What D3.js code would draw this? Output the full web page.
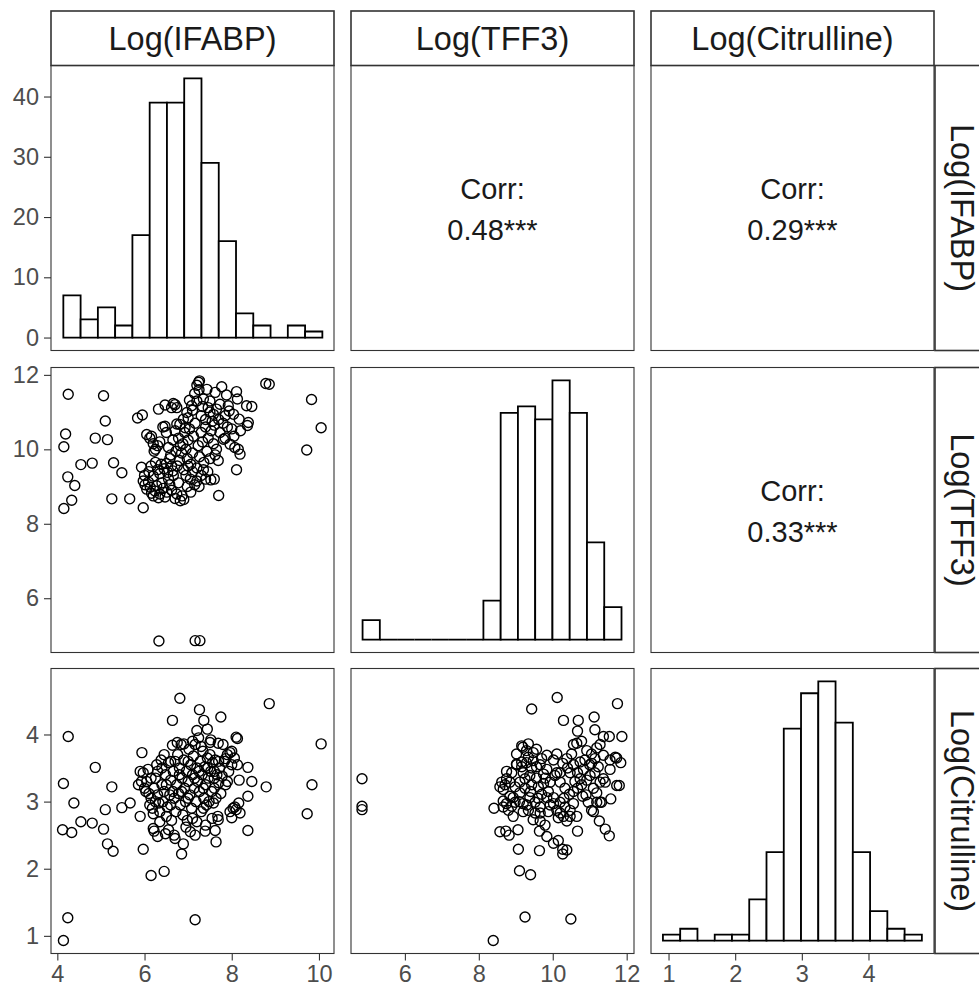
<!DOCTYPE html>
<html>
<head>
<meta charset="utf-8">
<script src="https://cdn.jsdelivr.net/npm/d3@7"></script>
<style>
  body { margin: 0; background: #fff; }
  svg { display: block; font-family: "Liberation Sans", Arial, sans-serif; }
</style>
</head>
<body>
<svg id="chart" width="979" height="989"></svg>
<script>
// variables of the pairs matrix
var varNames = ['Log(IFABP)', 'Log(TFF3)', 'Log(Citrulline)'];
var varRanges = [[4.15, 10.05], [4.89, 11.85], [0.93, 4.79]];
var varTicks = [[4, 6, 8, 10], [6, 8, 10, 12], [1, 2, 3, 4]];
var countTicks = [0, 10, 20, 30, 40];

// diagonal histograms (15 bins each)
var binStarts = [4.138, 4.855, 0.916];
var binWidths = [0.396, 0.467, 0.259];
var ifabpCounts = [7, 3, 5, 2, 17, 39, 39, 43, 29, 16, 4, 2, 0, 2, 1];
var tff3Counts = [3, 0, 0, 0, 0, 0, 0, 6, 35, 36, 34, 40, 35, 15, 5];
var citrCounts = [1, 2, 0, 1, 1, 7, 15, 36, 42, 44, 37, 15, 5, 2, 1];

// upper panels
var corrLabels = ['0.48***', '0.29***', '0.33***'];

// lower panels: [x, y]
var ifabpVsTff3 = [
  [4.25, 11.48], [4.19, 10.41], [4.15, 10.07], [4.24, 9.26], [4.40, 9.03], [4.33, 8.63], [4.15, 8.41],
  [4.54, 9.59], [4.80, 9.63], [4.87, 10.30], [5.06, 11.44], [5.10, 10.76], [5.15, 10.26], [5.29, 9.64],
  [5.48, 9.37], [5.25, 8.67], [5.66, 8.67], [5.84, 10.84], [5.95, 10.92], [5.97, 8.43],
  [8.78, 11.77], [8.86, 11.75], [9.83, 11.34], [10.05, 10.58], [9.72, 9.98],
  [6.33, 4.85], [7.16, 4.86], [7.27, 4.86],
  [5.93, 9.52], [5.97, 9.15], [6.01, 9.05], [6.05, 8.93], [6.09, 9.12], [6.13, 8.98], [6.16, 8.82],
  [6.20, 8.75], [6.24, 8.88], [6.28, 9.02], [6.32, 8.70], [6.35, 8.80], [6.40, 9.10], [6.43, 8.95],
  [6.47, 8.72], [6.51, 8.85], [6.55, 9.20], [6.58, 9.05], [6.62, 8.90], [6.66, 9.30], [6.70, 8.68],
  [6.74, 8.80], [6.78, 9.10], [6.82, 8.62], [6.86, 8.75], [6.00, 9.30], [6.10, 9.40], [6.15, 9.55],
  [6.20, 9.28], [6.25, 9.65], [6.30, 9.45], [6.35, 9.35], [6.38, 9.60], [6.45, 9.48], [6.50, 9.62],
  [6.53, 9.38], [6.58, 9.75], [6.62, 9.55], [6.65, 9.42],
  [6.05, 10.40], [6.12, 10.30], [6.16, 10.35], [6.20, 10.15], [6.25, 10.00], [6.22, 9.95], [6.30, 10.10],
  [6.35, 10.20], [6.42, 10.60], [6.47, 10.62], [6.50, 10.45], [6.55, 10.05], [6.60, 9.85], [6.65, 10.25],
  [6.70, 10.50], [6.74, 10.68], [6.78, 10.30], [6.82, 10.10], [6.85, 9.90], [6.88, 10.15], [6.92, 10.45],
  [6.95, 10.00], [6.98, 9.75], [7.00, 10.25], [7.03, 10.55], [7.06, 9.60], [7.10, 9.90], [7.12, 10.35],
  [7.16, 10.70], [7.20, 9.50], [7.23, 10.10], [7.26, 9.80], [7.30, 10.45], [7.33, 10.20], [7.36, 9.65],
  [7.40, 10.60], [7.43, 9.95], [7.46, 10.30], [7.50, 9.75], [7.53, 10.50], [7.58, 10.15], [7.62, 9.85],
  [7.65, 10.00], [7.69, 9.70], [6.90, 9.45], [6.95, 9.30], [7.00, 9.55], [7.05, 9.20], [7.10, 9.40],
  [7.15, 9.05], [7.20, 9.15], [7.25, 9.00], [7.30, 9.30], [7.35, 9.45], [7.40, 9.20], [7.45, 9.40],
  [7.52, 9.18], [7.60, 9.20], [7.70, 8.76], [7.06, 8.85], [6.90, 8.65], [6.98, 9.00], [6.75, 9.55],
  [6.80, 9.70], [6.72, 9.95],
  [6.32, 11.08], [6.47, 11.19], [6.66, 11.23], [6.62, 11.12], [6.74, 11.12], [6.70, 11.20], [7.03, 11.32],
  [7.26, 11.84], [7.24, 11.80], [7.20, 11.72], [7.43, 11.61], [7.62, 11.53], [7.77, 11.68], [7.88, 11.46],
  [8.11, 11.55], [8.13, 11.35], [8.34, 11.17], [8.46, 11.15], [8.38, 10.72], [8.36, 10.64], [8.17, 10.81],
  [8.04, 10.94], [7.94, 11.03], [7.92, 11.17], [7.73, 11.21], [7.65, 11.08], [7.58, 10.94], [7.46, 11.12],
  [7.35, 11.35], [7.20, 11.30], [7.08, 11.17], [6.97, 10.99], [6.89, 10.81], [6.81, 10.67], [6.93, 10.58],
  [7.00, 10.85], [7.10, 11.05], [7.30, 10.90], [7.40, 10.80], [7.50, 11.00], [7.55, 10.75], [7.70, 10.80],
  [7.80, 10.70], [7.85, 10.90], [7.90, 10.60], [8.00, 10.55], [7.73, 10.45], [7.81, 10.27], [7.96, 10.14],
  [8.07, 10.05], [8.15, 10.00], [8.19, 9.87], [8.11, 9.45], [7.85, 10.30], [8.05, 10.35], [8.20, 10.50],
  [7.60, 10.65], [7.50, 11.30], [7.33, 11.15], [7.15, 11.50], [7.25, 11.60]
];

var ifabpVsCitr = [
  [4.25, 3.97], [4.14, 3.27], [4.38, 2.98], [4.12, 2.58], [4.33, 2.54], [4.54, 2.70], [4.80, 2.68],
  [4.87, 3.51], [5.06, 2.59], [5.10, 2.88], [5.25, 3.22], [5.15, 2.37], [5.28, 2.26], [5.48, 2.91],
  [5.67, 2.98], [4.24, 1.27], [4.14, 0.93], [7.16, 1.24], [5.97, 2.29], [6.15, 1.90], [6.45, 1.96],
  [6.81, 4.54], [7.26, 4.37], [7.36, 4.21], [6.64, 4.21], [7.75, 4.26], [8.86, 4.46], [10.05, 3.86],
  [9.84, 3.25], [9.73, 2.82], [8.79, 3.22], [8.37, 3.51], [8.46, 3.30], [8.37, 3.08], [8.37, 2.57],
  [8.10, 3.96], [8.13, 3.94], [5.94, 3.73], [5.90, 2.78], [7.16, 2.50], [7.64, 2.40], [6.85, 2.22],
  [6.89, 2.37], [6.48, 2.52], [6.68, 2.50], [6.22, 2.56], [6.30, 2.48], [7.39, 2.56], [7.62, 2.57],
  [7.69, 2.73], [8.19, 2.83], [8.00, 2.76], [8.07, 2.92], [8.16, 2.98], [8.17, 3.32], [8.13, 3.55],
  [7.96, 3.73], [7.86, 3.64], [7.69, 3.87], [7.52, 3.92], [7.44, 4.08], [7.20, 4.06],
  [5.86, 3.25], [5.90, 3.45], [5.93, 3.30], [5.97, 3.43], [6.00, 3.20], [6.03, 3.15], [6.05, 3.30],
  [6.08, 3.48], [6.10, 3.12], [6.12, 2.95], [6.15, 3.05], [6.18, 2.90], [6.20, 2.82], [6.22, 3.20],
  [6.25, 3.35], [6.28, 3.55], [6.30, 3.10], [6.33, 2.98], [6.35, 2.85], [6.38, 3.62], [6.40, 3.25],
  [6.42, 3.00], [6.45, 3.15], [6.48, 3.40], [6.50, 2.78], [6.52, 2.92], [6.55, 3.58], [6.58, 3.10],
  [6.60, 3.32], [6.62, 2.72], [6.64, 3.84], [6.66, 3.45], [6.68, 3.05], [6.70, 3.60], [6.72, 2.85],
  [6.74, 3.25], [6.76, 3.70], [6.78, 3.12], [6.80, 3.50], [6.82, 2.95], [6.84, 3.85], [6.86, 3.35],
  [6.88, 2.80], [6.90, 3.62], [6.92, 3.20], [6.94, 3.00], [6.96, 3.45], [6.98, 2.72], [7.00, 3.30],
  [7.02, 3.78], [7.04, 3.10], [7.06, 3.55], [7.08, 2.90], [7.10, 3.40], [7.12, 3.68], [7.14, 3.20],
  [7.16, 3.85], [7.18, 3.00], [7.20, 3.50], [7.22, 3.30], [7.24, 3.95], [7.26, 3.15], [7.28, 3.60],
  [7.30, 2.85], [7.32, 3.40], [7.34, 3.75], [7.36, 3.05], [7.38, 3.52], [7.40, 3.25], [7.42, 2.95],
  [7.44, 3.65], [7.46, 3.35], [7.48, 3.00], [7.50, 3.70], [7.52, 3.45], [7.54, 3.15], [7.56, 3.58],
  [7.58, 2.98], [7.60, 3.35], [7.62, 3.62], [7.64, 3.05], [7.66, 3.40], [7.68, 2.78], [7.70, 3.28],
  [7.72, 3.50], [7.75, 3.12], [7.78, 3.38], [7.80, 3.85], [7.83, 3.60], [7.86, 3.25], [7.90, 3.70],
  [7.93, 3.45], [7.96, 2.85], [8.00, 3.55], [8.03, 2.90], [8.06, 3.65], [8.10, 2.88],
  [6.20, 2.60], [6.35, 2.70], [6.55, 2.58], [6.70, 2.45], [6.95, 2.62], [7.05, 2.55], [7.20, 2.70],
  [7.40, 2.65], [7.55, 2.75], [6.30, 3.45], [6.45, 3.70], [6.60, 3.60], [6.75, 3.88], [6.90, 3.86],
  [7.00, 3.60], [7.10, 3.90], [7.30, 3.82], [7.50, 3.88], [6.15, 3.35], [6.40, 3.50], [6.50, 3.25],
  [6.65, 3.15], [6.85, 3.15], [7.00, 3.05], [7.15, 3.35], [7.25, 3.45], [7.35, 3.20], [7.45, 3.50],
  [7.60, 3.20], [7.70, 3.60], [6.25, 3.00], [6.60, 2.95], [6.80, 3.40], [7.10, 2.75], [7.35, 2.90],
  [7.60, 3.45], [7.90, 3.30], [8.00, 3.75]
];

var tff3VsCitr = [
  [4.84, 3.34], [4.84, 2.93], [4.84, 2.88], [8.39, 0.93], [9.25, 1.28], [10.49, 1.25], [9.10, 1.97],
  [9.40, 1.91], [9.07, 2.29], [9.64, 2.27], [10.12, 4.55], [9.43, 4.38], [10.29, 4.21], [10.69, 4.21],
  [11.12, 4.26], [11.75, 4.46], [11.87, 3.97], [11.53, 3.97], [11.37, 3.97], [11.14, 4.07], [10.67, 4.05],
  [11.73, 3.24], [11.80, 3.24], [11.84, 3.58], [11.73, 3.65], [11.57, 3.04], [11.26, 2.71], [11.42, 2.59],
  [11.53, 2.49], [10.67, 2.56], [8.41, 2.90], [8.57, 2.55], [8.73, 2.56], [8.82, 2.50], [9.06, 2.58],
  [10.02, 2.38], [10.27, 2.29], [10.38, 2.28], [10.27, 2.22], [10.15, 2.42], [9.84, 2.48], [9.64, 2.56],
  [9.34, 3.86], [9.19, 3.81],
  [9.16, 3.83], [9.02, 3.71], [9.16, 3.59], [9.29, 3.58], [9.47, 3.61], [9.66, 3.55], [9.84, 3.48],
  [9.75, 3.41], [9.56, 3.35], [9.38, 3.39], [9.20, 3.43], [9.02, 3.56], [8.75, 3.34], [8.71, 3.25],
  [8.66, 3.18], [8.75, 2.97], [8.66, 2.92], [8.80, 2.87], [8.93, 2.78], [8.89, 2.93], [8.98, 2.99],
  [9.11, 3.13], [9.25, 3.20], [9.38, 3.06], [9.52, 2.99], [9.66, 2.92], [9.52, 2.83], [9.66, 2.71],
  [9.79, 2.65], [9.34, 2.87], [9.20, 2.97], [9.43, 3.25], [9.61, 3.22], [9.75, 3.27], [9.93, 3.29],
  [9.88, 3.15], [10.02, 3.06], [10.11, 2.87], [10.20, 2.83], [10.29, 2.78], [10.15, 2.76], [10.38, 2.71],
  [10.47, 2.87], [10.56, 2.97], [10.45, 3.11], [10.33, 3.20], [10.20, 3.29], [10.11, 3.43], [10.27, 3.57],
  [10.38, 3.64], [10.51, 3.71], [10.56, 3.85], [10.65, 3.87], [10.78, 3.90], [10.92, 3.76], [11.05, 3.71],
  [11.14, 3.64], [11.23, 3.52], [11.14, 3.43], [11.01, 3.39], [10.92, 3.32], [10.78, 3.25], [10.67, 3.20],
  [10.81, 3.08], [10.96, 2.99], [11.05, 2.87], [11.19, 2.99], [11.28, 3.29], [11.37, 3.34], [10.83, 3.48],
  [10.67, 3.43], [10.56, 3.55], [10.74, 3.59], [10.87, 3.62], [10.47, 3.43], [10.20, 3.43], [10.06, 3.39],
  [10.02, 3.62], [10.11, 3.71], [9.84, 3.69], [9.70, 3.64], [9.56, 3.52], [9.43, 3.50], [9.29, 3.76],
  [9.02, 3.55], [8.89, 3.43], [8.84, 3.29], [8.98, 3.22], [9.11, 3.29], [9.25, 3.34], [8.66, 3.01],
  [8.93, 3.06], [9.20, 2.85], [9.47, 2.73], [9.88, 2.85], [10.02, 2.97], [10.20, 2.99], [10.33, 2.92],
  [10.47, 2.78], [10.56, 3.15], [10.74, 3.34], [11.10, 3.20], [11.19, 3.13], [11.32, 2.99], [11.10, 2.85],
  [10.65, 2.78], [9.84, 3.06], [9.70, 3.11], [9.93, 2.95], [9.66, 2.83], [8.84, 3.08], [8.57, 3.22],
  [8.62, 3.29], [8.75, 3.45], [9.16, 3.52], [9.34, 3.66], [9.47, 3.73], [9.56, 3.78], [11.05, 3.57],
  [11.19, 3.80], [11.28, 3.85], [11.37, 3.69], [11.55, 3.62], [11.69, 3.66], [11.55, 3.48], [11.42, 3.29],
  [11.28, 2.99], [9.10, 3.00], [9.30, 2.95], [9.60, 3.05], [10.40, 3.50], [10.60, 3.30], [10.90, 3.10],
  [11.00, 3.55], [10.30, 3.05], [9.80, 3.35], [9.40, 3.15]
];

var lowerPanels = [
  { row: 1, col: 0, points: ifabpVsTff3 },
  { row: 2, col: 0, points: ifabpVsCitr },
  { row: 2, col: 1, points: tff3VsCitr }
];
var histCounts = [ifabpCounts, tff3Counts, citrCounts];

// layout
var colX = [51, 351, 651];
var rowY = [65.5, 367.5, 668.5];
var pw = 283, ph = 285;
var stripTop = 11, stripRight = 935, stripSize = 55;
var gridColor = '#333333';
var textColor = '#4d4d4d';

function expand(r) {
  var d = (r[1] - r[0]) * 0.05;
  return [r[0] - d, r[1] + d];
}

var svg = d3.select('#chart');

var xScales = varRanges.map(function (r, i) {
  return d3.scaleLinear().domain(expand(r)).range([colX[i], colX[i] + pw]);
});
var yScales = varRanges.map(function (r, i) {
  return d3.scaleLinear().domain(expand(r)).range([rowY[i] + ph, rowY[i]]);
});
var countScales = histCounts.map(function (c, i) {
  return d3.scaleLinear().domain(expand([0, d3.max(c)])).range([rowY[i] + ph, rowY[i]]);
});

// panel backgrounds
var cells = [];
[0, 1, 2].forEach(function (r) {
  [0, 1, 2].forEach(function (c) { cells.push({ row: r, col: c }); });
});

svg.selectAll('rect.panel-bg').data(cells).enter().append('rect')
  .attr('class', 'panel-bg')
  .attr('x', function (d) { return colX[d.col]; })
  .attr('y', function (d) { return rowY[d.row]; })
  .attr('width', pw)
  .attr('height', ph)
  .attr('fill', '#fff');

// histograms on the diagonal
histCounts.forEach(function (counts, i) {
  var x = xScales[i];
  var y = countScales[i];
  var bins = counts.map(function (n, k) {
    return { x0: binStarts[i] + k * binWidths[i], x1: binStarts[i] + (k + 1) * binWidths[i], n: n };
  });
  svg.append('g').attr('class', 'hist')
    .selectAll('path').data(bins).enter().append('path')
    .attr('d', function (d) {
      var x0 = x(d.x0), x1 = x(d.x1), y0 = y(0), y1 = y(d.n);
      return 'M' + x0 + ',' + y0 + 'V' + y1 + 'H' + x1 + 'V' + y0 + 'Z';
    })
    .attr('fill', '#fff')
    .attr('stroke', '#000')
    .attr('stroke-width', 1.8)
    .attr('stroke-linejoin', 'miter');
});

// scatter panels
lowerPanels.forEach(function (p) {
  var x = xScales[p.col];
  var y = yScales[p.row];
  svg.append('g').attr('class', 'scatter')
    .selectAll('circle').data(p.points).enter().append('circle')
    .attr('cx', function (d) { return x(d[0]); })
    .attr('cy', function (d) { return y(d[1]); })
    .attr('r', 5)
    .attr('fill', 'none')
    .attr('stroke', '#000')
    .attr('stroke-width', 1.4);
});

// correlation text in the upper panels
var upper = [{ row: 0, col: 1 }, { row: 0, col: 2 }, { row: 1, col: 2 }];
upper.forEach(function (u, i) {
  var cx = colX[u.col] + pw / 2;
  var cy = rowY[u.row] + ph / 2;
  var g = svg.append('g').attr('class', 'corr')
    .attr('font-size', 29).attr('fill', '#1a1a1a').attr('text-anchor', 'middle');
  g.append('text').attr('x', cx).attr('y', cy - 19).attr('dy', '0.35em').text('Corr:');
  g.append('text').attr('x', cx).attr('y', cy + 22).attr('dy', '0.35em').text(corrLabels[i]);
});

// panel borders on top
svg.selectAll('rect.panel-border').data(cells).enter().append('rect')
  .attr('class', 'panel-border')
  .attr('x', function (d) { return colX[d.col]; })
  .attr('y', function (d) { return rowY[d.row]; })
  .attr('width', pw)
  .attr('height', ph)
  .attr('fill', 'none')
  .attr('stroke', gridColor)
  .attr('stroke-width', 1.1);

// strips
var topStrips = svg.append('g').attr('class', 'strips-top');
varNames.forEach(function (name, i) {
  topStrips.append('rect')
    .attr('x', colX[i]).attr('y', stripTop)
    .attr('width', pw).attr('height', rowY[0] - stripTop)
    .attr('fill', '#fff').attr('stroke', gridColor).attr('stroke-width', 1.6);
  topStrips.append('text')
    .attr('x', colX[i] + pw / 2)
    .attr('y', (stripTop + rowY[0]) / 2)
    .attr('dy', '0.35em')
    .attr('text-anchor', 'middle')
    .attr('font-size', 32.5)
    .attr('fill', '#1a1a1a')
    .text(name);
});

var rightStrips = svg.append('g').attr('class', 'strips-right');
varNames.forEach(function (name, i) {
  rightStrips.append('rect')
    .attr('x', stripRight).attr('y', rowY[i])
    .attr('width', stripSize).attr('height', ph)
    .attr('fill', '#fff').attr('stroke', gridColor).attr('stroke-width', 1.6);
  var cx = stripRight + stripSize / 2;
  var cy = rowY[i] + ph / 2;
  rightStrips.append('text')
    .attr('transform', 'translate(' + cx + ',' + cy + ')rotate(90)')
    .attr('dy', '0.35em')
    .attr('text-anchor', 'middle')
    .attr('font-size', 32.5)
    .attr('fill', '#1a1a1a')
    .text(name);
});

// axes
function styleAxis(g) {
  g.select('.domain').remove();
  g.selectAll('.tick line').attr('stroke', gridColor).attr('stroke-width', 1.1);
  g.selectAll('.tick text').attr('fill', textColor).attr('font-size', 23.5)
    .attr('font-family', '"Liberation Sans", Arial, sans-serif');
}

[0, 1, 2].forEach(function (i) {
  var yAxisScale = i === 0 ? countScales[0] : yScales[i];
  var yTicks = i === 0 ? countTicks : varTicks[i];
  svg.append('g')
    .attr('transform', 'translate(' + colX[0] + ',0)')
    .call(d3.axisLeft(yAxisScale).tickValues(yTicks).tickSize(7).tickPadding(5).tickFormat(d3.format('d')))
    .call(styleAxis);

  svg.append('g')
    .attr('transform', 'translate(0,' + (rowY[2] + ph) + ')')
    .call(d3.axisBottom(xScales[i]).tickValues(varTicks[i]).tickSize(7).tickPadding(5).tickFormat(d3.format('d')))
    .call(styleAxis);
});
</script>
</body>
</html>
